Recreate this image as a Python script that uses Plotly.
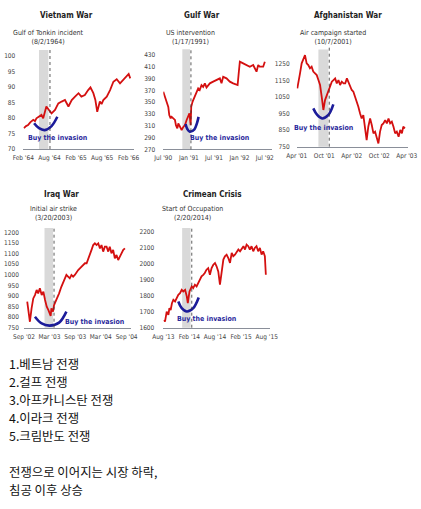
import plotly.graph_objects as go

W, H = 421, 509

# ---- data (index level, approx.) ----
vn_dates = ['1964-02-05', '1964-02-20', '1964-03-05', '1964-03-20', '1964-04-10', '1964-04-22',
            '1964-05-02', '1964-05-20', '1964-06-06', '1964-06-18', '1964-07-01', '1964-07-10',
            '1964-07-28', '1964-08-15', '1964-09-08', '1964-10-01', '1964-10-24', '1964-11-16',
            '1964-12-10', '1965-01-02', '1965-01-25', '1965-02-18', '1965-03-10', '1965-04-03',
            '1965-04-26', '1965-05-12', '1965-06-01', '1965-06-15', '1965-06-28', '1965-07-16',
            '1965-07-28', '1965-08-09', '1965-09-02', '1965-09-25', '1965-10-18', '1965-11-10',
            '1965-12-03', '1965-12-26', '1966-01-19', '1966-02-01', '1966-02-12']
vn_close = [76.7, 77.4, 77.7, 78.6, 79.4, 79.0,
            79.9, 80.4, 81.0, 79.9, 82.4, 83.7,
            82.6, 81.5, 82.6, 84.7, 85.3, 85.8,
            83.7, 85.8, 86.9, 88.0, 86.9, 87.4,
            89.0, 89.9, 88.0, 85.8, 82.0, 85.3,
            84.5, 85.8, 86.9, 89.0, 91.7, 92.5,
            91.2, 92.3, 93.3, 94.2, 92.8]

gw_dates = ['1990-07-01', '1990-07-13', '1990-07-25', '1990-08-06', '1990-08-13', '1990-08-23',
            '1990-08-30', '1990-09-11', '1990-09-23', '1990-09-30', '1990-10-10', '1990-10-17',
            '1990-10-29', '1990-11-10', '1990-11-22', '1990-12-04', '1990-12-16', '1990-12-28',
            '1991-01-05', '1991-01-14', '1991-01-18', '1991-01-28', '1991-02-14', '1991-02-26',
            '1991-03-09', '1991-03-20', '1991-04-02', '1991-04-14', '1991-04-26', '1991-05-08',
            '1991-06-01', '1991-06-25', '1991-07-19', '1991-08-12', '1991-08-24', '1991-09-05',
            '1991-09-29', '1991-10-23', '1991-11-16', '1991-12-10', '1991-12-18', '1991-12-27',
            '1992-01-03', '1992-01-27', '1992-02-20', '1992-03-15', '1992-04-08', '1992-05-02',
            '1992-05-14', '1992-05-25', '1992-06-19', '1992-07-01']
gw_close = [367.8, 359, 351, 342, 328, 322.6,
            325, 322.6, 319.8, 311, 305.6, 314,
            308, 302.8, 308, 311, 319.8, 325,
            331, 311, 342, 351, 362, 368,
            373.5, 370.6, 379, 376, 382, 375,
            382, 384.8, 387.6, 390.4, 382, 393,
            390.4, 384.8, 382, 379, 379, 402,
            418.7, 415.9, 413, 410.2, 413, 401.7,
            413, 410.2, 410.2, 418.7]

af_dates = ['2001-04-05', '2001-04-12', '2001-04-23', '2001-05-04', '2001-05-15', '2001-05-26',
            '2001-06-06', '2001-06-17', '2001-06-28', '2001-07-09', '2001-07-20', '2001-08-01',
            '2001-08-12', '2001-08-23', '2001-09-03', '2001-09-14', '2001-09-25', '2001-10-06',
            '2001-10-17', '2001-10-28', '2001-11-09', '2001-11-20', '2001-12-01', '2001-12-12',
            '2001-12-23', '2002-01-03', '2002-01-14', '2002-01-25', '2002-02-06', '2002-02-17',
            '2002-02-28', '2002-03-09', '2002-03-20', '2002-04-01', '2002-04-12', '2002-04-23',
            '2002-05-04', '2002-05-15', '2002-05-26', '2002-06-06', '2002-06-17', '2002-06-28',
            '2002-07-09', '2002-07-20', '2002-08-01', '2002-08-12', '2002-08-23', '2002-09-03',
            '2002-09-14', '2002-09-25', '2002-10-06', '2002-10-17', '2002-10-28', '2002-11-09',
            '2002-11-20', '2002-12-01', '2002-12-12', '2002-12-23', '2003-01-03', '2003-01-14',
            '2003-01-25', '2003-02-06', '2003-02-17', '2003-02-28', '2003-03-09', '2003-03-20']
af_close = [1103, 1150, 1193, 1254, 1274, 1304,
            1254, 1244, 1224, 1234, 1204, 1194,
            1183, 1153, 1123, 1052, 972, 1032,
            1062, 1093, 1113, 1143, 1153, 1163,
            1133, 1153, 1123, 1143, 1133, 1133,
            1163, 1143, 1113, 1093, 1083, 1052,
            1032, 992, 952, 921, 941, 851,
            790, 871, 921, 881, 831, 841,
            810, 770, 841, 881, 891, 911,
            891, 921, 891, 901, 871, 831,
            841, 810, 851, 831, 871, 861]

iq_dates = ['2002-09-24', '2002-10-01', '2002-10-13', '2002-10-25', '2002-11-06', '2002-11-18',
            '2002-11-30', '2002-12-11', '2002-12-23', '2003-01-05', '2003-01-17', '2003-01-29',
            '2003-02-10', '2003-02-22', '2003-03-03', '2003-03-10', '2003-03-15', '2003-03-27',
            '2003-04-03', '2003-04-15', '2003-04-24', '2003-05-09', '2003-05-25', '2003-06-07',
            '2003-06-19', '2003-06-30', '2003-07-12', '2003-07-24', '2003-08-05', '2003-08-17',
            '2003-08-29', '2003-09-10', '2003-09-22', '2003-10-04', '2003-10-16', '2003-10-28',
            '2003-11-09', '2003-11-21', '2003-12-02', '2003-12-14', '2003-12-26', '2004-01-07',
            '2004-01-19', '2004-01-31', '2004-02-12', '2004-02-24', '2004-03-06', '2004-03-18',
            '2004-03-30', '2004-04-11', '2004-04-23', '2004-05-04', '2004-05-16', '2004-05-28',
            '2004-06-09', '2004-06-21', '2004-07-03', '2004-07-15', '2004-07-27', '2004-08-08',
            '2004-08-20']
iq_close = [873, 841, 778, 841, 888, 904,
            928, 912, 936, 904, 920, 881,
            849, 833, 818, 805, 841, 826,
            857, 873, 888, 912, 943, 967,
            983, 999, 991, 983, 999, 991,
            999, 1014, 1022, 1030, 1038, 1046,
            1054, 1054, 1077, 1093, 1117, 1140,
            1148, 1140, 1148, 1124, 1140, 1109,
            1132, 1132, 1109, 1132, 1101, 1117,
            1077, 1093, 1069, 1085, 1101, 1117,
            1124]

cr_dates = ['2013-08-06', '2013-08-13', '2013-08-25', '2013-09-06', '2013-09-13', '2013-09-22',
            '2013-10-01', '2013-10-11', '2013-10-23', '2013-11-04', '2013-11-15', '2013-11-27',
            '2013-12-09', '2013-12-20', '2014-01-02', '2014-01-14', '2014-01-21', '2014-02-02',
            '2014-02-18', '2014-02-28', '2014-03-12', '2014-03-24', '2014-04-05', '2014-04-16',
            '2014-04-28', '2014-05-10', '2014-05-21', '2014-06-02', '2014-06-14', '2014-06-26',
            '2014-07-08', '2014-07-20', '2014-08-01', '2014-08-12', '2014-08-24', '2014-09-05',
            '2014-09-17', '2014-09-29', '2014-10-10', '2014-10-22', '2014-11-03', '2014-11-15',
            '2014-11-27', '2014-12-08', '2014-12-20', '2015-01-01', '2015-01-13', '2015-01-25',
            '2015-02-06', '2015-02-18', '2015-03-01', '2015-03-12', '2015-03-24', '2015-04-04',
            '2015-04-16', '2015-04-28', '2015-05-09', '2015-05-21', '2015-06-02', '2015-06-14',
            '2015-06-26', '2015-07-07', '2015-07-19', '2015-07-26']
cr_close = [1648, 1638, 1701, 1680, 1722, 1711,
            1753, 1774, 1764, 1785, 1806, 1816,
            1837, 1827, 1837, 1795, 1753, 1827,
            1858, 1848, 1869, 1858, 1879, 1890,
            1921, 1931, 1942, 1963, 1973, 1931,
            1973, 1994, 2005, 1984, 1952, 1869,
            1952, 2026, 2047, 2057, 2036, 2005,
            2068, 2047, 2057, 2078, 2089, 2078,
            2099, 2110, 2089, 2120, 2110, 2089,
            2110, 2078, 2099, 2110, 2078, 2099,
            2057, 2078, 2047, 1931]

# hand-drawn "buy" arcs
vn_arc_d = ['1964-04-16', '1964-05-20', '1964-06-29', '1964-08-15', '1964-09-24']
vn_arc_v = [78.3, 76.7, 76.1, 77.4, 80.4]
gw_arc_d = ['1990-12-08', '1990-12-22', '1991-01-08', '1991-02-10', '1991-02-28', '1991-03-12']
gw_arc_v = [313, 304, 300, 304, 314, 325]
af_arc_d = ['2001-07-20', '2001-08-15', '2001-09-16', '2001-10-28', '2001-11-30']
af_arc_v = [982, 942, 921, 942, 1006]
iq_arc_d = ['2002-11-18', '2003-01-05', '2003-03-03', '2003-05-09', '2003-06-30']
iq_arc_v = [802, 770, 760, 774, 826]
cr_arc_d = ['2013-11-15', '2013-12-09', '2014-01-14', '2014-02-28', '2014-04-08']
cr_arc_v = [1764, 1722, 1701, 1722, 1789]

titles = ['Vietnam War', 'Gulf War', 'Afghanistan War', 'Iraq War', 'Crimean Crisis']
events = ['Gulf of Tonkin incident<br>(8/2/1964)', 'US intervention<br>(1/17/1991)',
          'Air campaign started<br>(10/7/2001)', 'Initial air strike<br>(3/20/2003)',
          'Start of Occupation<br>(2/20/2014)']

vn_xt = ['1964-02-01', '1964-08-01', '1965-02-01', '1965-08-01', '1966-02-01']
vn_xl = ["Feb '64", "Aug '64", "Feb '65", "Aug '65", "Feb '66"]
gw_xt = ['1990-07-01', '1991-01-01', '1991-07-01', '1992-01-01', '1992-07-01']
gw_xl = ["Jul '90", "Jan '91", "Jul '91", "Jan '92", "Jul '92"]
af_xt = ['2001-04-01', '2001-10-01', '2002-04-01', '2002-10-01', '2003-04-01']
af_xl = ["Apr '01", "Oct '01", "Apr '02", "Oct '02", "Apr '03"]
iq_xt = ['2002-09-01', '2003-03-01', '2003-09-01', '2004-03-01', '2004-09-01']
iq_xl = ["Sep '02", "Mar '03", "Sep '03", "Mar '04", "Sep '04"]
cr_xt = ['2013-08-01', '2014-02-01', '2014-08-01', '2015-02-01', '2015-08-01']
cr_xl = ["Aug '13", "Feb '14", "Aug '14", "Feb '15", "Aug '15"]

vn_yt = [70, 75, 80, 85, 90, 95, 100]
gw_yt = [270, 290, 310, 330, 350, 370, 390, 410, 430]
af_yt = [750, 850, 950, 1050, 1150, 1250]
iq_yt = [750, 800, 850, 900, 950, 1000, 1050, 1100, 1150, 1200]
cr_yt = [1600, 1700, 1800, 1900, 2000, 2100, 2200]

notes = ['1.베트남 전쟁', '2.걸프 전쟁', '3.아프카니스탄 전쟁', '4.이라크 전쟁', '5.크림반도 전쟁',
         '전쟁으로 이어지는 시장 하락,', '침공 이후 상승']

# ---- panel layout (pixel boxes) ----
panels = [
    dict(d=vn_dates, v=vn_close, ad=vn_arc_d, av=vn_arc_v, xt=vn_xt, xl=vn_xl, yt=vn_yt,
         xr=['1964-02-01', '1966-03-10'], yr=[70, 101], px=(23.3, 134), py=(52.9, 149),
         band=('1964-05-20', '1964-07-24'), ev='1964-08-04', bt=1.03,
         buy=('1964-09-24', 73.4), tx=48, so=7),
    dict(d=gw_dates, v=gw_close, ad=gw_arc_d, av=gw_arc_v, xt=gw_xt, xl=gw_xl, yt=gw_yt,
         xr=['1990-07-01', '1992-08-20'], yr=[270, 435], px=(163.3, 271.8), py=(52.1, 149.3),
         band=('1990-11-15', '1991-01-10'), ev='1991-01-16', bt=1.03,
         buy=('1991-08-12', 289.8), tx=190, so=7),
    dict(d=af_dates, v=af_close, ad=af_arc_d, av=af_arc_v, xt=af_xt, xl=af_xl, yt=af_yt,
         xr=['2001-04-01', '2003-04-10'], yr=[750, 1310], px=(296.7, 408.1), py=(54.1, 146.7),
         band=('2001-08-23', '2001-10-28'), ev='2001-11-03', bt=1.05,
         buy=('2001-09-25', 865), tx=333, so=6),
    dict(d=iq_dates, v=iq_close, ad=iq_arc_d, av=iq_arc_v, xt=iq_xt, xl=iq_xl, yt=iq_yt,
         xr=['2002-09-01', '2004-10-05'], yr=[750, 1225], px=(24, 131.4), py=(227, 327.7),
         band=('2003-01-25', '2003-03-27'), ev='2003-04-03', bt=0.99,
         buy=('2004-01-19', 778), tx=53, so=4),
    dict(d=cr_dates, v=cr_close, ad=cr_arc_d, av=cr_arc_v, xt=cr_xt, xl=cr_xl, yt=cr_yt,
         xr=['2013-08-01', '2015-08-25'], yr=[1600, 2230], px=(163.3, 270.1), py=(227, 327.7),
         band=('2013-12-12', '2014-02-10'), ev='2014-02-18', bt=0.99,
         buy=('2014-06-02', 1655), tx=192, so=8),
]
title_y = [16, 16, 16, 194, 194]
title_x = [66, 202, 348, 62, 212]
ev_y = [38, 38, 38, 213, 213]
note_y = [364, 382, 400, 418, 436, 472, 490]

FONT = 'DejaVu Sans Condensed, Liberation Sans Narrow, Arial Narrow, Liberation Sans, sans-serif'
RED = '#d41010'
BLUE = '#1c1c9a'

fig = go.Figure()
layout = {}
shapes = []
annots = []

for i, p in enumerate(panels):
    n = '' if i == 0 else str(i + 1)
    xa, ya = 'x' + n, 'y' + n
    fig.add_trace(go.Scatter(x=p['d'], y=p['v'], mode='lines', xaxis=xa, yaxis=ya,
                             line=dict(color=RED, width=1.8), hoverinfo='skip'))
    fig.add_trace(go.Scatter(x=p['ad'], y=p['av'], mode='lines', xaxis=xa, yaxis=ya,
                             line=dict(color=BLUE, width=2.6, shape='spline'), hoverinfo='skip'))
    layout['xaxis' + n] = dict(
        domain=[p['px'][0] / W, p['px'][1] / W], anchor=ya, type='date', range=p['xr'],
        tickvals=p['xt'], ticktext=p['xl'], tickangle=0, automargin=False,
        ticklabelstandoff=2, showgrid=False, zeroline=False,
        showline=True, linecolor='#8a8f99', linewidth=1, ticks='',
        tickfont=dict(size=6.5, color='#444', family=FONT), fixedrange=True)
    layout['yaxis' + n] = dict(
        domain=[1 - p['py'][1] / H, 1 - p['py'][0] / H], anchor=xa, range=p['yr'],
        tickvals=p['yt'], showgrid=False, zeroline=False, showline=False, ticks='',
        automargin=False, ticklabelstandoff=p['so'],
        tickfont=dict(size=6.5, color='#444', family=FONT), fixedrange=True)
    shapes.append(dict(type='rect', xref=xa, yref=ya + ' domain', x0=p['band'][0],
                       x1=p['band'][1], y0=0, y1=p['bt'], fillcolor='#d9d9d9',
                       line=dict(width=0), layer='below'))
    shapes.append(dict(type='line', xref=xa, yref=ya + ' domain', x0=p['ev'], x1=p['ev'],
                       y0=0, y1=p['bt'] + 0.02, line=dict(color='#333', width=0.8, dash='dot')))
    annots.append(dict(text='<b>' + titles[i] + '</b>', xref='paper', yref='paper',
                       x=title_x[i] / W, y=1 - title_y[i] / H, xanchor='center',
                       yanchor='middle', showarrow=False,
                       font=dict(size=8, color='#222', family=FONT)))
    annots.append(dict(text=events[i], xref='paper', yref='paper',
                       x=p['tx'] / W, y=1 - ev_y[i] / H, xanchor='center',
                       yanchor='middle', showarrow=False,
                       font=dict(size=7, color='#333', family=FONT)))
    annots.append(dict(text='<b>Buy the invasion</b>', xref=xa, yref=ya,
                       x=p['buy'][0], y=p['buy'][1], xanchor='center', showarrow=False,
                       font=dict(size=7, color='#2a2a9c', family=FONT)))

# Korean notes below the charts
for t, yy in zip(notes, note_y):
    annots.append(dict(text=t, xref='paper', yref='paper', x=7 / W, y=1 - yy / H,
                       xanchor='left', yanchor='middle', showarrow=False,
                       font=dict(size=12.4, color='#111', family='Noto Sans CJK KR')))

fig.update_layout(**layout)
fig.update_layout(width=W, height=H, margin=dict(l=0, r=0, t=0, b=0),
                  paper_bgcolor='white', plot_bgcolor='white', showlegend=False,
                  shapes=shapes, annotations=annots)

# page has a default 8px body margin; drop it so the figure fills the window
fig.write_html('out.html', config={'displayModeBar': False},
               post_script="document.body.style.margin='0';")
